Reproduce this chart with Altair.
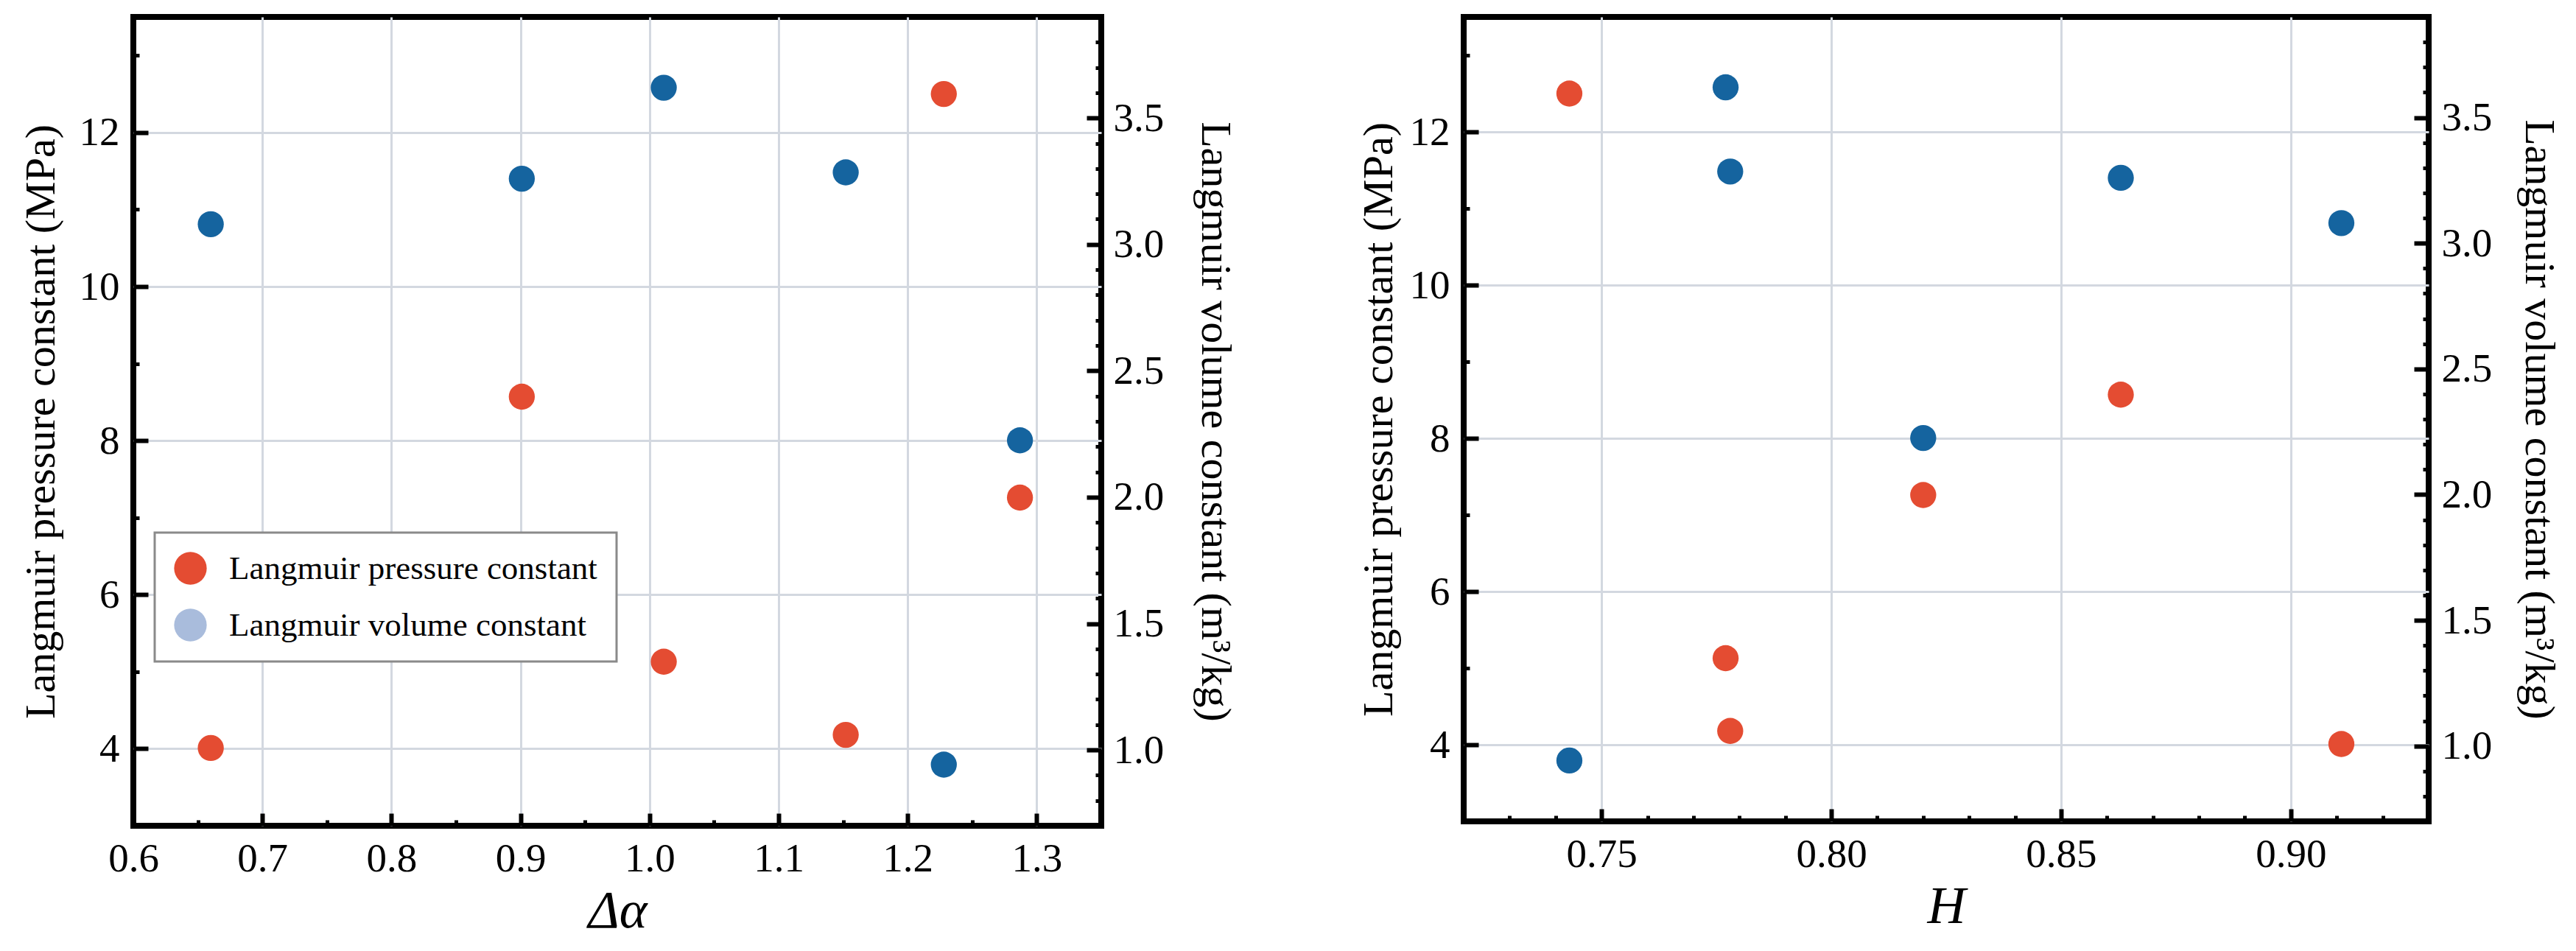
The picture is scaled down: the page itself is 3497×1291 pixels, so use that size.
import altair as alt
import pandas as pd

# ---- data (six samples) ----
delta_alpha = [0.660, 0.901, 1.011, 1.152, 1.228, 1.287]
h_values = [0.911, 0.863, 0.777, 0.778, 0.743, 0.820]
pressure = [4.01, 8.57, 5.13, 4.18, 12.50, 7.26]        # MPa
volume = [3.08, 3.26, 3.62, 3.285, 0.942, 2.225]         # m3/kg

series_names = ["Langmuir pressure constant", "Langmuir volume constant"]

p_domain = [3, 13.5]
p_major = [4, 6, 8, 10, 12]
p_minor = [5, 7, 9, 11, 13]
v_domain = [0.7, 3.9]
v_major = [1.0, 1.5, 2.0, 2.5, 3.0, 3.5]
v_minor = [0.8, 0.9, 1.1, 1.2, 1.3, 1.4, 1.6, 1.7, 1.8, 1.9, 2.1, 2.2, 2.3, 2.4,
           2.6, 2.7, 2.8, 2.9, 3.1, 3.2, 3.3, 3.4, 3.6, 3.7, 3.8]
da_domain = [0.6, 1.35]
da_major = [0.6, 0.7, 0.8, 0.9, 1.0, 1.1, 1.2, 1.3]
da_minor = [0.65, 0.75, 0.85, 0.95, 1.05, 1.15, 1.25]
h_domain = [0.72, 0.93]
h_major = [0.75, 0.80, 0.85, 0.90]
h_minor = [0.73, 0.74, 0.76, 0.77, 0.78, 0.79, 0.81, 0.82, 0.83, 0.84,
           0.86, 0.87, 0.88, 0.89, 0.91, 0.92]

RED = "#E44C32"
BLUE = "#15649F"
LEGEND_BLUE = "#A9BCDC"
GRID = "#D3D8E0"
FONT = "Liberation Serif"

df = pd.DataFrame({"da": delta_alpha, "H": h_values, "P": pressure, "V": volume})


def tick_axis(values, orient, size, width):
    return alt.Axis(values=values, orient=orient, labels=False, grid=False,
                    domain=False, ticks=True, tickSize=size, tickWidth=width,
                    tickColor="black", offset=-size, title=None)


def panel(xfield, xdomain, xmajor, xminor, xfmt, xtitle, width, height,
          lpad_title, rpad_title, rlabel_pad, legend, grid_op):
    xscale = alt.Scale(domain=xdomain, nice=False, zero=False)
    pscale = alt.Scale(domain=p_domain, nice=False, zero=False)
    vscale = alt.Scale(domain=v_domain, nice=False, zero=False)
    base = alt.Chart(df)

    x_axis = alt.Axis(values=xmajor, format=xfmt, orient="bottom", title=xtitle,
                      grid=True, gridColor=GRID, gridWidth=3, gridOpacity=grid_op,
                      ticks=False, tickSize=0, domain=False, labelPadding=18,
                      labelFontSize=55, labelFlush=False, labelOverlap=False,
                      titleFontSize=72, titleFontStyle="italic", titlePadding=8)
    p_axis = alt.Axis(values=p_major, orient="left", title="Langmuir pressure constant (MPa)",
                      grid=True, gridColor=GRID, gridWidth=3, ticks=False, tickSize=0,
                      domain=False, labelPadding=19, labelFontSize=55, labelFlush=False,
                      labelOverlap=False, titleFontSize=58, titlePadding=lpad_title)
    v_axis = alt.Axis(values=v_major, orient="right", format=".1f",
                      title="Langmuir volume constant (m³/kg)",
                      grid=False, ticks=False, tickSize=0, domain=False,
                      labelPadding=rlabel_pad, labelFontSize=55, labelFlush=False,
                      labelOverlap=False, titleFontSize=58, titlePadding=rpad_title)

    if legend:
        color = alt.Color("series:N",
                          scale=alt.Scale(domain=series_names, range=[RED, LEGEND_BLUE]),
                          legend=alt.Legend(orient="none", legendX=29, legendY=700,
                                            title=None, symbolType="circle",
                                            symbolSize=1960, symbolStrokeWidth=0,
                                            symbolOpacity=1, labelFont=FONT,
                                            labelFontSize=45, labelColor="black",
                                            labelLimit=2000,
                                            labelOffset=30, rowPadding=31, padding=26,
                                            strokeColor="#8a8a8a", fillColor="white"))
    else:
        color = alt.value(RED)

    red = base.mark_circle(size=1250, opacity=1).transform_calculate(
        series="'" + series_names[0] + "'"
    ).encode(
        x=alt.X(f"{xfield}:Q", scale=xscale, axis=x_axis),
        y=alt.Y("P:Q", scale=pscale, axis=p_axis),
        color=color,
    )
    blue = base.mark_circle(size=1250, opacity=1, color=BLUE).encode(
        x=alt.X(f"{xfield}:Q", scale=xscale, axis=None),
        y=alt.Y("V:Q", scale=vscale, axis=v_axis),
    )
    t_major = base.mark_circle(opacity=0).encode(
        x=alt.X(f"{xfield}:Q", scale=xscale, axis=tick_axis(xmajor, "bottom", 17, 6)),
        y=alt.Y("P:Q", scale=pscale, axis=tick_axis(p_major, "left", 20, 6)),
    )
    t_minor = base.mark_circle(opacity=0).encode(
        x=alt.X(f"{xfield}:Q", scale=xscale, axis=tick_axis(xminor, "bottom", 8, 5)),
        y=alt.Y("P:Q", scale=pscale, axis=tick_axis(p_minor, "left", 8, 5)),
    )
    r_major = base.mark_circle(opacity=0).encode(
        x=alt.X(f"{xfield}:Q", scale=xscale, axis=None),
        y=alt.Y("V:Q", scale=vscale, axis=tick_axis(v_major, "right", 20, 6)),
    )
    r_minor = base.mark_circle(opacity=0).encode(
        x=alt.X(f"{xfield}:Q", scale=xscale, axis=None),
        y=alt.Y("V:Q", scale=vscale, axis=tick_axis(v_minor, "right", 8, 5)),
    )
    return alt.layer(t_major, t_minor, r_major, r_minor, red, blue).resolve_scale(
        y="independent"
    ).resolve_axis(x="independent", y="independent").properties(width=width, height=height)


left = panel("da", da_domain, da_major, da_minor, ".1f", "Δα", 1314, 1098,
             22, 40, 16, True,
             {"condition": {"test": "datum.value < 0.61", "value": 0}, "value": 1})
right = panel("H", h_domain, h_major, h_minor, ".2f", "H", 1310, 1092,
              12, 34, 17, False, 1)

chart = alt.hconcat(left, right, spacing=157).resolve_scale(color="independent").properties(
    padding={"left": 15, "top": 11, "right": 5, "bottom": 5}
).configure_view(stroke="black", strokeWidth=8).configure_axis(
    labelFont=FONT, titleFont=FONT, labelColor="black", titleColor="black",
    titleFontWeight="normal"
).configure_legend(strokeWidth=3)

chart.save("out.html", embed_options={"renderer": "svg", "actions": False})
